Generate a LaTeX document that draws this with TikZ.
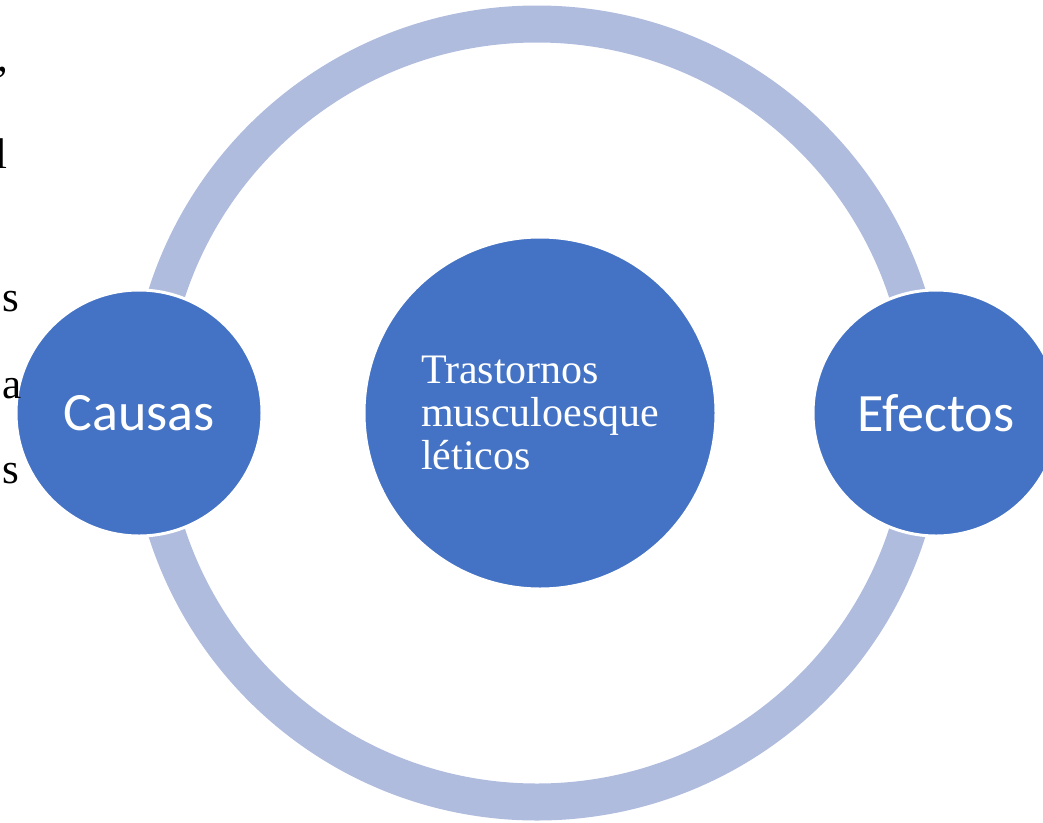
\documentclass[tikz,border=0pt]{standalone}
\usepackage{fontspec}
\setmainfont{Liberation Serif}
\newfontfamily\calibrifont{Carlito}
\definecolor{ringblue}{RGB}{175,188,222}
\definecolor{discblue}{RGB}{68,114,196}
\tikzset{
  ring/.style={draw=ringblue, line width=37pt},
  disc/.style={circle, fill=discblue, draw=white, line width=3pt, inner sep=0pt, text=white},
  sidedisc/.style={disc, minimum size=246pt, font=\calibrifont\fontsize{54}{60}\selectfont},
  hubdisc/.style={disc, minimum size=352pt, align=left, font=\fontsize{42}{43}\selectfont},
  fragment/.style={inner sep=0pt, anchor=base east, font=\fontsize{43}{48}\selectfont, text=black}
}
\begin{document}
\begin{tikzpicture}[x=1pt, y=-1pt]
  \useasboundingbox (0,0) rectangle (1043,822);
  \clip (0,0) rectangle (1043,822);

  % cycle ring
  \coordinate (hub) at (537,413);
  \draw[ring] (hub) circle[radius=389pt];

  % discs
  \node[hubdisc] (core) at (540,413) {Trastornos\\musculoesque\\léticos};
  \node[sidedisc] (causas) at (139,413) {Causas};
  \node[sidedisc] (efectos) at (936,413) {Efectos};

  % ends of the neighbouring text lines at the left margin
  \node[fragment] (frag1) at (8,71) {,};
  \node[fragment] (frag2) at (8,168) {l};
  \node[fragment] (frag3) at (19,311) {s};
  \node[fragment] (frag4) at (22,398) {a};
  \node[fragment] (frag5) at (19,483) {s};
\end{tikzpicture}
\end{document}
